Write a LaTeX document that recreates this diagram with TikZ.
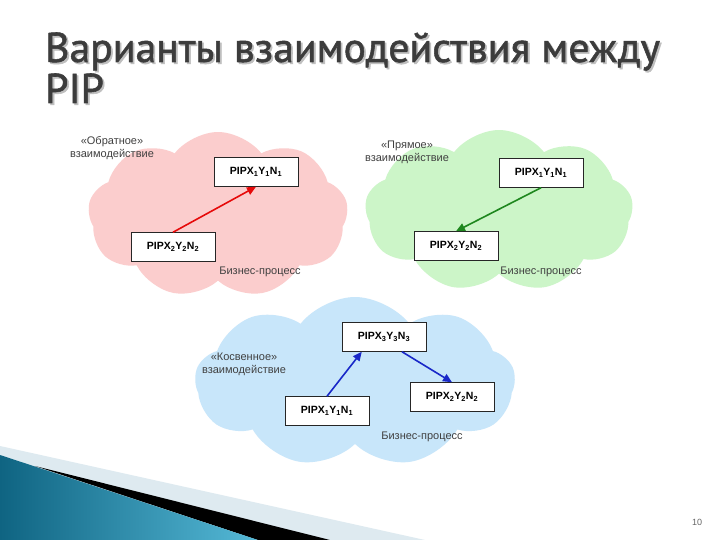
\documentclass[tikz,border=0pt]{standalone}
\usepackage{fontspec}
\setmainfont{Liberation Sans}
\newfontfamily\titlefont[FakeBold=1.3]{PT Sans}
\usetikzlibrary{shapes.symbols,arrows.meta}
\definecolor{pinkc}{RGB}{251,205,205}
\definecolor{greenc}{RGB}{204,245,200}
\definecolor{bluec}{RGB}{200,230,250}
\definecolor{redar}{RGB}{230,10,10}
\definecolor{greenar}{RGB}{30,135,30}
\definecolor{bluear}{RGB}{25,40,200}
\definecolor{titlec}{RGB}{60,60,60}
\definecolor{tealdark}{RGB}{15,100,130}
\definecolor{teallight}{RGB}{85,185,215}
\definecolor{bandc}{RGB}{222,234,240}
\newcommand{\ttlone}{Варианты взаимодействия между}
\begin{document}
\begin{tikzpicture}[x=1pt,y=-1pt,
  cloudbg/.style={cloud, cloud puffs=9, cloud puff arc=105, cloud ignores aspect, draw=none, inner sep=0pt},
  pipbox/.style={draw=black!85, line width=0.5pt, fill=white, minimum width=84pt, minimum height=29pt, inner sep=0pt, font=\bfseries\fontsize{10.5}{12}\selectfont},
  lbl/.style={font=\fontsize{11}{13}\selectfont, text=black!75, align=center, inner sep=0pt},
  arr/.style={line width=1.6pt, -{Triangle[length=9pt,width=8pt]}},
  ttl/.style={anchor=base west, inner sep=0pt, font=\titlefont\fontsize{41.7}{42}\selectfont}
]
\useasboundingbox (0,0) rectangle (720,540);
\fill[white] (0,0) rectangle (720,540);

% title with soft shadow
\node[ttl, text=black!25] (t1s) at (46.8,63.8) {\ttlone};
\node[ttl, text=black!25] (t2s) at (46.8,104.8) {PIP};
\node[ttl, text=titlec] (t1) at (45,62) {\ttlone};
\node[ttl, text=titlec] (t2) at (45,103) {PIP};

% clouds
\node[cloudbg, fill=pinkc, minimum width=260pt, minimum height=166pt] (c1) at (218,215) {};
\node[cloudbg, fill=greenc, minimum width=268pt, minimum height=162pt] (c2) at (499,211) {};
\node[cloudbg, fill=bluec, minimum width=320pt, minimum height=170pt] (c3) at (355,382) {};

% pink
\node[pipbox] (p1) at (256,172) {PIPX\textsubscript{1}Y\textsubscript{1}N\textsubscript{1}};
\node[pipbox] (p2) at (173,247) {PIPX\textsubscript{2}Y\textsubscript{2}N\textsubscript{2}};
\draw[arr, redar] (p2.north) -- (p1.south);
\node[lbl] (pl) at (112,148) {«Обратное»\\взаимодействие};
\node[lbl] (pb) at (260,272) {Бизнес-процесс};

% green
\node[pipbox] (g1) at (541,173) {PIPX\textsubscript{1}Y\textsubscript{1}N\textsubscript{1}};
\node[pipbox] (g2) at (456,246) {PIPX\textsubscript{2}Y\textsubscript{2}N\textsubscript{2}};
\draw[arr, greenar] (g1.south) -- (g2.north);
\node[lbl] (gl) at (407,152) {«Прямое»\\взаимодействие};
\node[lbl] (gb) at (541,272) {Бизнес-процесс};

% blue
\node[pipbox] (b3) at (384,337) {PIPX\textsubscript{3}Y\textsubscript{3}N\textsubscript{3}};
\node[pipbox] (b1) at (327,411) {PIPX\textsubscript{1}Y\textsubscript{1}N\textsubscript{1}};
\node[pipbox] (b2) at (452,397) {PIPX\textsubscript{2}Y\textsubscript{2}N\textsubscript{2}};
\draw[arr, bluear] (b1.north) -- ([xshift=20pt]b3.south west);
\draw[arr, bluear] ([xshift=18pt]b3.south) -- (b2.north);
\node[lbl] (bl) at (244,364) {«Косвенное»\\взаимодействие};
\node[lbl] (bb) at (422,437) {Бизнес-процесс};

% bottom-left decoration
\fill[bandc] (0,446) -- (425,540) -- (0,540) -- cycle;
\fill[black] (35,466) -- (330,540) -- (258,540) -- cycle;
\shade[left color=tealdark, right color=teallight] (0,455) -- (258,540) -- (0,540) -- cycle;

% page number
\node[font=\fontsize{9}{10}\selectfont, text=black!60, inner sep=0pt] (pg) at (697,522) {10};
\end{tikzpicture}
\end{document}
